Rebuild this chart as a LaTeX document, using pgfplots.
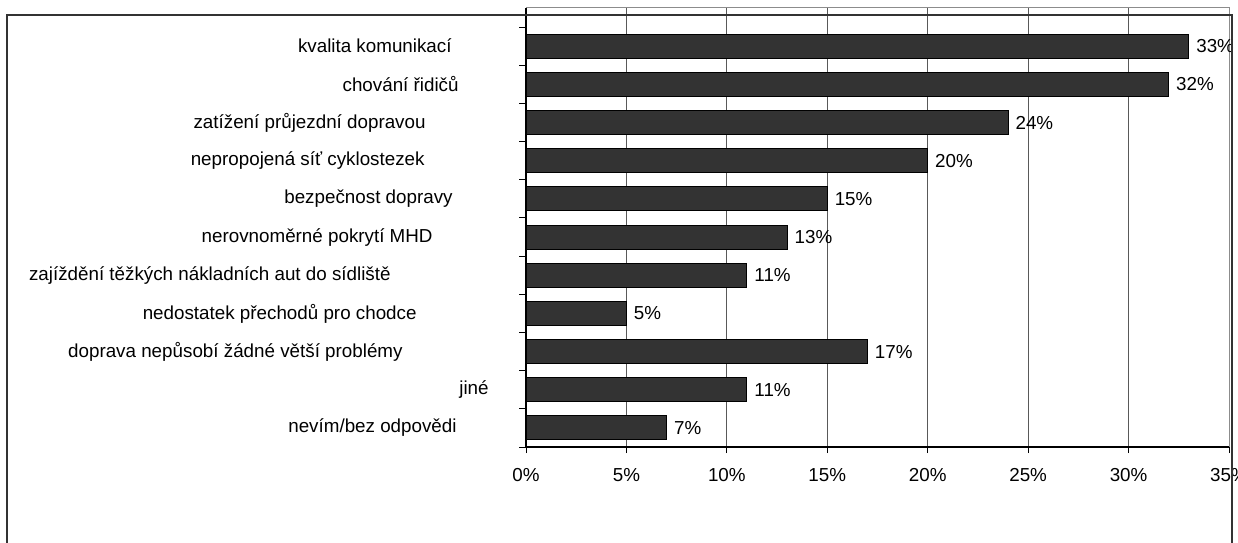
\documentclass[border=0pt]{standalone}
\usepackage{pgfplots}
\pgfplotsset{compat=1.18}
\usepackage{fontspec}
\setmainfont{Liberation Sans}

\begin{document}
\begin{tikzpicture}
\useasboundingbox (0,0) rectangle (619bp,271.5bp);
\begin{axis}[
	at={(263bp,48bp)}, anchor=south west,
	scale only axis,
	width=351.5bp, height=219.5bp,
	xbar, bar width=12bp,
	xmin=0, xmax=35,
	ymin=-1, ymax=10.5,
	y dir=reverse,
	axis x line*=bottom, axis y line*=left,
	axis line style={black, line width=0.6bp},
	xtick={0,5,...,35},
	xticklabels={0\%,5\%,10\%,15\%,20\%,25\%,30\%,35\%},
	ytick={0,...,10},
	yticklabels={
		kvalita komunikací\hspace*{18.5bp},
		chování řidičů\hspace*{15bp},
		zatížení průjezdní dopravou\hspace*{31.5bp},
		nepropojená síť cyklostezek\hspace*{32bp},
		bezpečnost dopravy\hspace*{18bp},
		nerovnoměrné pokrytí MHD\hspace*{28bp},
		zajíždění těžkých nákladních aut do sídliště\hspace*{49bp},
		nedostatek přechodů pro chodce\hspace*{36bp},
		doprava nepůsobí žádné větší problémy\hspace*{43bp},
		jiné,
		nevím/bez odpovědi\hspace*{16bp}},
	minor ytick={-0.5,0.5,...,10.5},
	tick align=outside,
	major tick length=3bp,
	minor tick length=3.5bp,
	major y tick style={draw=none},
	minor y tick style={black, line width=0.5bp},
	major x tick style={black, line width=0.5bp},
	xmajorgrids,
	grid style={black!65, line width=0.5bp},
	ticklabel style={font=\fontsize{9.4bp}{11bp}\selectfont, inner sep=0pt},
	xticklabel style={anchor=north, yshift=-7.3bp},
	yticklabel style={anchor=east, xshift=-15.5bp},
	point meta=x,
	nodes near coords={\pgfmathprintnumber[assume math mode=true]{\pgfplotspointmeta}\%},
	every node near coord/.append style={anchor=west, inner sep=0pt, xshift=3.5bp,
		font=\fontsize{9.4bp}{11bp}\selectfont, black},
	clip=false,
]
\addplot[fill=black!80, draw=black, line width=0.5bp] coordinates {
	(33,0) (32,1) (24,2) (20,3) (15,4) (13,5) (11,6) (5,7) (17,8) (11,9) (7,10)
};
\draw[black!45, line width=0.5bp] (rel axis cs:0,1) -- (rel axis cs:1,1) -- (rel axis cs:1,0);
\end{axis}
\begin{scope}
\clip (0,0) rectangle (619bp,271.5bp);
\draw[black!80, line width=0.8bp] (3.5bp,-20bp) rectangle (616bp,264bp);
\end{scope}
\end{tikzpicture}
\end{document}
